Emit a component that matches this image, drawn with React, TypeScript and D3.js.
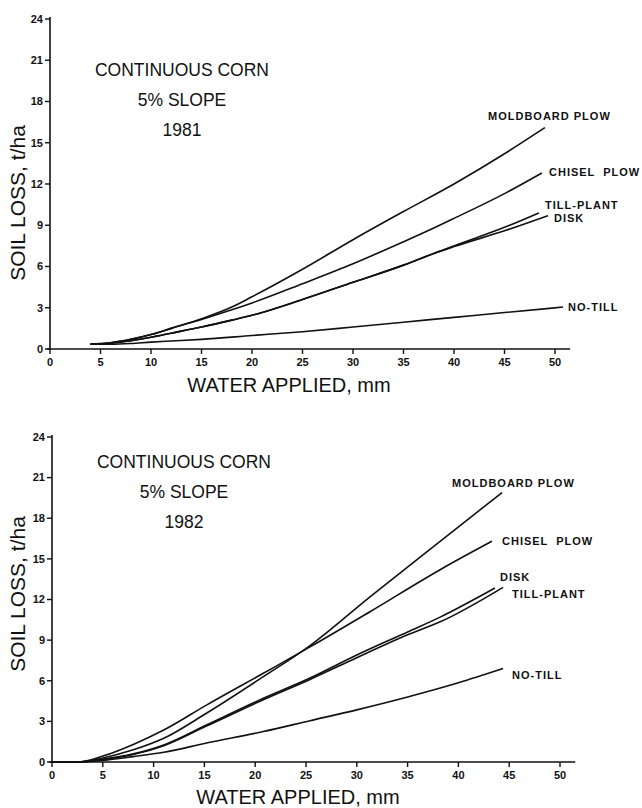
import React from "react";
import * as d3 from "d3";

// ---------- data ----------
const waterTicks = [0, 5, 10, 15, 20, 25, 30, 35, 40, 45, 50];
const soilTicks = [0, 3, 6, 9, 12, 15, 18, 21, 24];

// 1981  [water applied mm, soil loss t/ha]
const moldboard1981: [number, number][] = [
  [4, 0.35], [6, 0.45], [8, 0.7], [10, 1.05], [12, 1.5], [15, 2.2], [18, 3.05],
  [20, 3.8], [25, 5.8], [30, 7.95], [35, 10.0], [40, 12.0], [45, 14.2], [49, 16.1],
];
const chisel1981: [number, number][] = [
  [4, 0.35], [6, 0.45], [8, 0.7], [10, 1.05], [12, 1.5], [15, 2.15], [18, 2.85],
  [20, 3.35], [25, 4.75], [30, 6.2], [35, 7.8], [38, 8.8], [40, 9.5], [45, 11.3], [48.7, 12.8],
];
const tillPlant1981: [number, number][] = [
  [4, 0.35], [6, 0.42], [8, 0.6], [10, 0.85], [12, 1.15], [15, 1.6], [18, 2.1],
  [20, 2.45], [25, 3.6], [30, 4.85], [35, 6.1], [38, 6.95], [40, 7.5], [45, 8.85], [48.4, 9.9],
];
const disk1981: [number, number][] = [
  [4, 0.35], [6, 0.42], [8, 0.6], [10, 0.85], [12, 1.15], [15, 1.6], [18, 2.1],
  [20, 2.45], [25, 3.6], [30, 4.85], [35, 6.1], [38, 6.95], [40, 7.45], [45, 8.6], [49.3, 9.7],
];
const noTill1981: [number, number][] = [
  [4, 0.35], [6, 0.35], [8, 0.4], [10, 0.5], [12, 0.58], [15, 0.7], [20, 0.98],
  [25, 1.26], [30, 1.6], [35, 1.95], [40, 2.3], [45, 2.65], [50.8, 3.05],
];

// 1982
const moldboard1982: [number, number][] = [
  [0, 0], [2.5, 0], [5, 0.3], [8, 0.9], [11, 1.75], [15.2, 3.6], [20.8, 6.3],
  [25.4, 8.6], [31.3, 12.2], [38.2, 16.3], [44.3, 19.9],
];
const chisel1982: [number, number][] = [
  [0, 0], [2.5, 0], [5, 0.44], [8, 1.3], [11, 2.36], [15.2, 4.2], [20.8, 6.55],
  [25.4, 8.5], [31.3, 11.1], [38.2, 14.2], [43.3, 16.3],
];
const disk1982: [number, number][] = [
  [0, 0], [2.5, 0], [5, 0.2], [8, 0.6], [11, 1.26], [15.2, 2.73], [20.8, 4.7],
  [25.4, 6.2], [30, 7.9], [35, 9.6], [38.2, 10.7], [43.6, 12.85],
];
const tillPlant1982: [number, number][] = [
  [0, 0], [2.5, 0], [5, 0.18], [8, 0.55], [11, 1.2], [15.2, 2.65], [20.8, 4.6],
  [25.4, 6.1], [30, 7.7], [35, 9.4], [38.2, 10.35], [44.4, 12.9],
];
const noTill1982: [number, number][] = [
  [0, 0], [2.5, 0], [5, 0.12], [8, 0.4], [11, 0.72], [15.2, 1.4], [20.8, 2.25],
  [25.4, 3.05], [30, 3.85], [35, 4.8], [40, 5.85], [44.4, 6.9],
];

const titles1981 = ["CONTINUOUS CORN", "5% SLOPE", "1981"];
const titles1982 = ["CONTINUOUS CORN", "5% SLOPE", "1982"];
const yTitle = "SOIL LOSS, t/ha";
const xTitle = "WATER APPLIED, mm";

// ---------- drawing ----------
const FONT = "'Liberation Sans', Arial, Helvetica, sans-serif";

type Series = { label: string; points: [number, number][]; lx: number; ly: number };

type PanelProps = {
  x0: number; x50: number; y0: number; y24: number; axisEnd: number;
  series: Series[]; titles: string[]; titleX: number; titleY: number; titleGap: number;
  yTitleX: number; yTitleY: number; xTitleX: number; xTitleY: number;
};

function Panel(p: PanelProps) {
  const x = d3.scaleLinear().domain([0, 50]).range([p.x0, p.x50]);
  const y = d3.scaleLinear().domain([0, 24]).range([p.y0, p.y24]);
  const line = d3
    .line<[number, number]>()
    .x((d) => x(d[0]))
    .y((d) => y(d[1]))
    .curve(d3.curveMonotoneX);
  return (
    <g>
      {/* axes */}
      <line x1={x(0) - 3} x2={x(p.axisEnd)} y1={y(0)} y2={y(0)} stroke="#111" strokeWidth={1.6} />
      <line x1={x(0)} x2={x(0)} y1={y(0)} y2={y(24) - 2} stroke="#111" strokeWidth={1.6} />
      {soilTicks.map((t) => (
        <g key={"y" + t}>
          <line x1={x(0) - 5} x2={x(0)} y1={y(t)} y2={y(t)} stroke="#111" strokeWidth={1.4} />
          <text x={x(0) - 7} y={y(t)} dy="0.35em" textAnchor="end" fontSize={11} fontWeight="bold" fontFamily={FONT} fill="#111">
            {t}
          </text>
        </g>
      ))}
      {waterTicks.map((t) => (
        <g key={"x" + t}>
          <line x1={x(t)} x2={x(t)} y1={y(0)} y2={y(0) + 5} stroke="#111" strokeWidth={1.4} />
          <text x={x(t)} y={y(0) + 17} textAnchor="middle" fontSize={11} fontWeight="bold" fontFamily={FONT} fill="#111">
            {t}
          </text>
        </g>
      ))}
      {/* curves */}
      {p.series.map((s) => (
        <path key={s.label} d={line(s.points) || ""} fill="none" stroke="#111" strokeWidth={1.6} />
      ))}
      {/* curve labels */}
      {p.series.map((s) => (
        <text key={"l" + s.label} x={s.lx} y={s.ly} dy="0.35em" fontSize={11} fontWeight="bold" letterSpacing={1} fontFamily={FONT} fill="#111" style={{ whiteSpace: "pre" }}>
          {s.label}
        </text>
      ))}
      {/* titles */}
      {p.titles.map((t, i) => (
        <text key={"t" + i} x={p.titleX} y={p.titleY + i * p.titleGap} textAnchor="middle" fontSize={17.5} fontFamily={FONT} fill="#111">
          {t}
        </text>
      ))}
      <text
        transform={`translate(${p.yTitleX},${p.yTitleY}) rotate(-90)`}
        textAnchor="middle"
        fontSize={21}
        fontFamily={FONT}
        fill="#111"
      >
        {yTitle}
      </text>
      <text x={p.xTitleX} y={p.xTitleY} textAnchor="middle" fontSize={20} fontFamily={FONT} fill="#111">
        {xTitle}
      </text>
    </g>
  );
}

export default function App() {
  const top: Series[] = [
    { label: "MOLDBOARD PLOW", points: moldboard1981, lx: 488, ly: 116 },
    { label: "CHISEL  PLOW", points: chisel1981, lx: 549, ly: 172 },
    { label: "TILL-PLANT", points: tillPlant1981, lx: 545, ly: 205 },
    { label: "DISK", points: disk1981, lx: 554, ly: 218 },
    { label: "NO-TILL", points: noTill1981, lx: 568, ly: 307 },
  ];
  const bottom: Series[] = [
    { label: "MOLDBOARD PLOW", points: moldboard1982, lx: 452, ly: 483 },
    { label: "CHISEL  PLOW", points: chisel1982, lx: 502, ly: 541 },
    { label: "DISK", points: disk1982, lx: 500, ly: 577 },
    { label: "TILL-PLANT", points: tillPlant1982, lx: 512, ly: 594 },
    { label: "NO-TILL", points: noTill1982, lx: 512, ly: 675 },
  ];
  return (
    <svg width={642} height={808} style={{ position: "absolute", left: 0, top: 0, background: "#fff" }}>
      <rect width={642} height={808} fill="#fff" />
      <Panel
        x0={50} x50={555} y0={349} y24={19} axisEnd={51.5}
        series={top} titles={titles1981} titleX={182} titleY={76} titleGap={30}
        yTitleX={25} yTitleY={203} xTitleX={289} xTitleY={392}
      />
      <Panel
        x0={52} x50={560} y0={762} y24={437} axisEnd={51.5}
        series={bottom} titles={titles1982} titleX={184} titleY={468} titleGap={30}
        yTitleX={25} yTitleY={594} xTitleX={298} xTitleY={804}
      />
    </svg>
  );
}
